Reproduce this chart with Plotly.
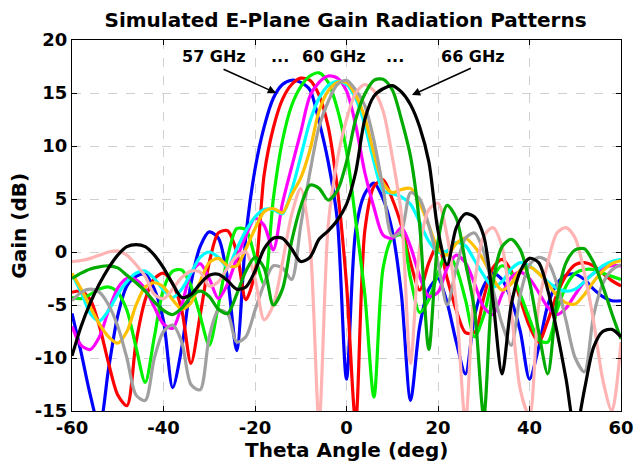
import plotly.graph_objects as go

# Theta sample grid (deg)
theta = list(range(-60, 61, 2))

# E-plane gain (dB) per frequency, sampled every 2 deg from -60 to 60
gain_57 = [-5.8, -9.5, -13.5, -16.5, -11.0, -6.0, -3.2, -2.3, -2.1, -3.5, -6.5, -12.8, -9.0, -3.0, 0.5, 1.9,
           1.3, -2.5, -9.3, 1.5, 7.8, 11.8, 14.5, 15.8, 16.2, 16.0, 15.3, 12.3, 8.5, 3.0, -12.0, 2.0,
           5.5, 6.5, 5.0, 2.0, -4.0, -14.0, -7.0, -3.5, -2.5, -4.8, -8.5, -11.5, -6.0, -3.2, -2.0, -2.6,
           -4.5, -7.5, -12.0, -9.0, -5.0, -3.0, -2.2, -2.1, -2.6, -3.5, -4.2, -4.6, -4.6]
gain_58 = [-3.8, -3.7, -4.5, -7.0, -10.5, -13.5, -14.5, -8.5, -4.5, -2.5, -2.0, -3.0, -5.5, -10.5, -6.0, -1.0,
           1.8, 2.0, 0.0, -4.5, -2.0, 7.3, 11.7, 14.4, 15.8, 16.4, 16.2, 14.8, 11.8, 6.0, -3.0, -16.0,
           2.0, 6.2, 6.8, 5.0, 2.5, -1.0, -3.6, -1.0, 0.7, -2.5, -5.5, -7.6, -7.6, -4.3, -1.5, -0.7,
           -1.8, -4.5, -7.0, -8.5, -6.5, -4.0, -2.2, -1.2, -1.0, -1.3, -2.0, -2.7, -3.2]
gain_59 = [-4.3, -4.4, -4.0, -3.5, -3.3, -3.8, -5.5, -9.0, -12.3, -8.0, -3.5, -1.8, -1.7, -3.2, -6.0, -8.8,
           -5.0, -0.5, 2.2, 2.1, -0.5, -3.0, 5.0, 10.5, 13.8, 15.6, 16.6, 16.9, 16.0, 13.5, 9.5, 3.0,
           -4.0, -13.7, -1.5, 1.3, 1.6, -2.5, -5.7, -4.5, -2.0, 0.0, -1.5, -4.5, -8.0, -6.0, -2.5, -1.3,
           -2.0, -4.0, -6.3, -8.3, -8.5, -5.5, -3.2, -2.0, -1.65, -1.65, -2.0, -2.3, -2.6]
gain_60 = [-7.0, -8.8, -9.2, -8.0, -5.5, -3.4, -2.5, -2.6, -3.5, -5.2, -6.8, -7.2, -5.0, -2.0, -1.1, -2.5,
           -4.4, -3.0, -0.6, 1.5, 3.2, 2.5, 0.2, 4.6, 8.0, 11.3, 14.7, 16.0, 16.6, 16.4, 15.2, 12.0,
           7.5, 4.2, 1.6, 1.3, 2.3, 0.5, -2.3, -4.2, -3.8, -1.5, -0.3, -1.0, -3.0, -5.2, -5.9, -4.0,
           -2.4, -1.9, -2.5, -3.8, -5.2, -5.9, -5.3, -4.0, -2.8, -2.0, -1.5, -1.3, -1.3]
gain_61 = [-2.1, -3.8, -5.8, -6.5, -5.5, -4.0, -2.8, -2.0, -1.8, -2.5, -3.6, -4.3, -3.5, -2.0, -0.5, 0.0,
           -0.5, -1.4, 0.3, 2.0, 3.3, 4.0, 4.0, 3.6, 5.8, 9.0, 12.3, 14.5, 15.7, 16.1, 15.8, 14.5,
           12.0, 8.5, 5.8, 5.5, 5.2, 4.5, 2.8, 1.0, 0.0, 0.1, 0.9, 0.6, -0.8, -2.2, -3.3, -2.8,
           -1.6, -1.0, -1.3, -2.0, -2.8, -3.4, -3.7, -3.5, -2.8, -2.0, -1.3, -0.9, -0.7]
gain_62 = [-2.0, -3.5, -5.2, -6.8, -8.0, -8.6, -7.5, -5.0, -3.3, -2.9, -3.3, -4.5, -5.4, -4.8, -2.8, -1.0,
           -0.6, -1.3, -1.3, 0.3, 2.2, 3.8, 4.1, 3.7, 5.4, 7.0, 9.6, 13.3, 15.2, 16.0, 16.0, 14.8,
           12.7, 9.3, 6.5, 5.6, 5.9, 6.0, 4.6, 2.5, 0.3, -0.3, 0.8, 1.3, 0.5, -0.8, -2.5, -3.6,
           -3.0, -1.7, -1.4, -2.0, -3.0, -4.1, -4.8, -4.9, -4.0, -2.8, -1.8, -1.1, -0.8]
gain_63 = [-4.6, -3.8, -3.5, -3.8, -5.0, -7.0, -10.0, -13.5, -14.0, -10.0, -7.5, -6.9, -8.5, -12.5, -13.0, -8.0,
           -5.5, -5.8, -8.5, -8.0, -5.5, -3.0, -1.3, -1.5, -2.6, 2.5, 7.5, 11.8, 14.2, 15.8, 16.2, 15.3,
           13.8, 10.5, 6.0, 1.5, 2.0, 5.6, 5.0, 2.5, -1.0, -5.0, -1.5, 1.3, 1.8, 0.0, -3.5, -6.8,
           -8.8, -4.0, -1.2, -0.5, -0.9, -3.0, -6.5, -10.0, -11.3, -6.0, -3.0, -1.7, -1.2]
gain_64 = [-0.9, -0.8, -0.6, -0.3, 0.0, 0.1, -0.3, -1.2, -2.3, -4.0, -4.4, -3.5, -2.4, -1.8, -1.9, -3.2,
           -2.8, -1.5, -0.4, 0.0, -2.5, -6.4, -5.0, -1.0, 3.5, 6.0, 1.0, -16.0, 2.5, 8.7, 12.5, 15.0,
           15.8, 15.2, 13.3, 9.0, 3.5, -10.5, 0.5, 4.0, 4.6, 1.5, -5.0, -16.0, -3.0, 1.5, 2.3, 0.5,
           -5.5, -13.0, -15.5, -5.0, -1.0, 1.8, 2.3, 1.3, -2.0, -6.5, -12.0, -15.0, -8.5]
gain_65 = [-2.5, -2.0, -1.6, -1.4, -1.3, -1.5, -2.2, -2.9, -3.7, -4.7, -5.5, -5.9, -5.3, -4.2, -3.7, -4.2,
           -5.4, -5.8, -4.0, -1.8, -0.5, -1.5, -5.0, -3.5, 1.0, 4.3, 6.3, 6.0, 4.9, 5.8, 8.5, 12.5,
           14.9, 16.2, 16.3, 15.3, 12.5, 9.0, 2.5, -9.2, 1.0, 4.4, 3.2, -1.0, -5.5, -15.5, -3.0, 0.5,
           1.2, 0.2, -2.8, -7.5, -11.5, -4.5, -1.0, 0.2, 0.3, -1.0, -3.2, -5.8, -8.2]
gain_66 = [-9.8, -7.0, -4.8, -3.0, -1.5, -0.3, 0.5, 0.7, 0.5, -0.3, -1.5, -3.0, -4.3, -4.0, -3.0, -2.2,
           -2.1, -2.7, -3.5, -3.3, -1.8, 0.3, 1.3, 1.3, 0.3, -0.9, -0.5, 1.2, 2.0, 3.0, 4.5, 7.5,
           12.5, 14.7, 15.4, 15.7, 15.1, 13.9, 11.8, 8.5, 2.0, -1.2, 2.3, 3.6, 3.3, 1.5, -4.5, -11.5,
           -5.0, -1.8, -0.6, -1.0, -3.6, -7.5, -12.0, -17.0, -13.0, -9.0, -7.5, -7.3, -8.0]

series = [
    ("57 GHz", gain_57, "#0000FF"),
    ("58 GHz", gain_58, "#FF0000"),
    ("59 GHz", gain_59, "#00F000"),
    ("60 GHz", gain_60, "#FF00FF"),
    ("61 GHz", gain_61, "#00FFFF"),
    ("62 GHz", gain_62, "#FFC000"),
    ("63 GHz", gain_63, "#A0A0A0"),
    ("64 GHz", gain_64, "#FFB3B3"),
    ("65 GHz", gain_65, "#00AA00"),
    ("66 GHz", gain_66, "#000000"),
]

x_ticks = [-60, -40, -20, 0, 20, 40, 60]
y_ticks = [-15, -10, -5, 0, 5, 10, 15, 20]

FONT = "DejaVu Sans"
BOLD20 = dict(family=FONT, size=20, color="black", weight="bold")

fig = go.Figure()
for name, g, col in series:
    fig.add_trace(go.Scatter(
        x=theta, y=g, mode="lines", name=name,
        line=dict(color=col, width=3.2, shape="spline", smoothing=0.8),
    ))

ann_font = dict(family=FONT, size=16, color="black", weight="bold")
labels = [("57 GHz", -29.0), ("...", -14.5), ("60 GHz", -2.8), ("...", 10.6), ("66 GHz", 27.7)]
for txt, xpos in labels:
    fig.add_annotation(x=xpos, y=18.4, text=txt, showarrow=False, font=ann_font)

# Arrows pointing at the 57 GHz and 66 GHz main lobes
fig.add_annotation(x=-15.4, y=15.0, ax=-27.2, ay=17.3, axref="x", ayref="y",
                   text="", showarrow=True, arrowhead=2, arrowsize=1.1, arrowwidth=1.5, arrowcolor="black")
fig.add_annotation(x=14.3, y=14.8, ax=27.5, ay=17.4, axref="x", ayref="y",
                   text="", showarrow=True, arrowhead=2, arrowsize=1.1, arrowwidth=1.5, arrowcolor="black")

# Axis titles placed relative to the plot area
fig.add_annotation(text="Theta Angle (deg)", xref="paper", yref="paper", x=0.5, y=-0.104,
                   xanchor="center", yanchor="middle", showarrow=False, font=BOLD20)
fig.add_annotation(text="Gain (dB)", xref="paper", yref="paper", x=-0.098, y=0.5, textangle=-90,
                   xanchor="center", yanchor="middle", showarrow=False, font=BOLD20)

axis_common = dict(
    showline=True, linecolor="black", linewidth=1.2, mirror="ticks",
    ticks="inside", ticklen=5, tickcolor="black",
    showgrid=True, gridcolor="#D0D0D0", griddash="dash", gridwidth=1,
    zeroline=False, automargin=False, ticklabeloverflow="allow",
    tickfont=dict(family=FONT, size=18, color="black", weight="bold"),
)

fig.update_xaxes(range=[-60, 60], tickvals=x_ticks, ticktext=[str(v) for v in x_ticks], **axis_common)
fig.update_yaxes(range=[-15, 20], tickvals=y_ticks, ticktext=[str(v) for v in y_ticks], **axis_common)

fig.update_layout(
    width=634, height=464,
    margin=dict(l=72, r=13, t=40, b=53, autoexpand=False),
    paper_bgcolor="white", plot_bgcolor="white",
    showlegend=False,
    title=dict(text="Simulated E-Plane Gain Radiation Patterns", x=0.545, xanchor="center", y=0.957, yanchor="middle",
               font=BOLD20),
)

fig.write_html("out.html")
